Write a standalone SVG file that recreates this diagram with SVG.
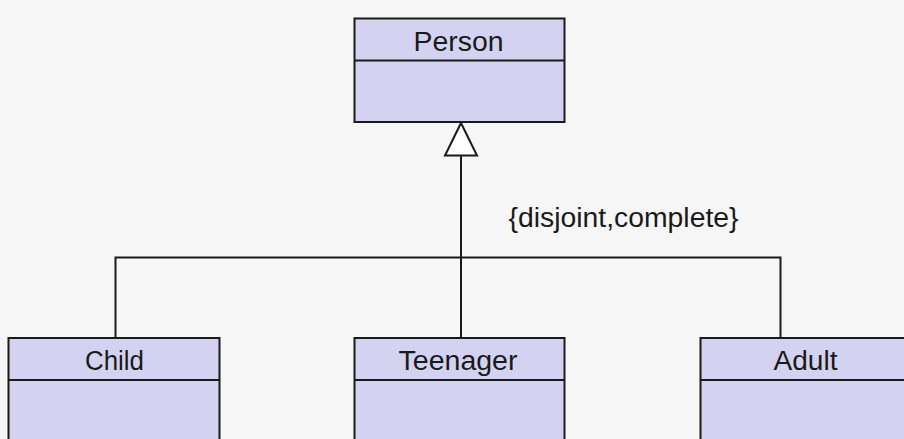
<svg xmlns="http://www.w3.org/2000/svg" width="904" height="439" viewBox="0 0 904 439">
<style>
.box{fill:#d3d3f1;stroke:#1a1a1a;stroke-width:2}
.div{stroke:#1a1a1a;stroke-width:2;fill:none}
.lbl{font-family:"Liberation Sans",Arial,sans-serif;font-size:27px;fill:#1a1a1a;text-anchor:middle}
.con{stroke:#1a1a1a;stroke-width:2;fill:none}
</style>
<rect width="904" height="439" fill="#f6f6f6"/>
<g id="connectors">
<polyline class="con" points="115.5,338 115.5,257.5 780.5,257.5 780.5,338"/>
<line class="con" x1="461" y1="155.5" x2="461" y2="338"/>
<polygon points="461,123 445,155.5 477,155.5" fill="#ffffff" stroke="#1a1a1a" stroke-width="2"/>
<text class="lbl" x="623.5" y="227" textLength="230" lengthAdjust="spacingAndGlyphs">{disjoint,complete}</text>
</g>
<g id="person">
<rect class="box" x="354.5" y="18.5" width="210" height="103.5"/>
<line class="div" x1="354.5" y1="60.5" x2="564.5" y2="60.5"/>
<text class="lbl" x="458.5" y="51" textLength="90" lengthAdjust="spacingAndGlyphs">Person</text>
</g>
<g id="child">
<rect class="box" x="8.5" y="338" width="211" height="120"/>
<line class="div" x1="8.5" y1="380" x2="219.5" y2="380"/>
<text class="lbl" x="114.5" y="370" textLength="59" lengthAdjust="spacingAndGlyphs">Child</text>
</g>
<g id="teenager">
<rect class="box" x="354.5" y="338" width="210" height="120"/>
<line class="div" x1="354.5" y1="380" x2="564.5" y2="380"/>
<text class="lbl" x="458" y="370" textLength="119" lengthAdjust="spacingAndGlyphs">Teenager</text>
</g>
<g id="adult">
<rect class="box" x="700.5" y="338" width="211" height="120"/>
<line class="div" x1="700.5" y1="380" x2="911.5" y2="380"/>
<text class="lbl" x="805.5" y="370" textLength="64" lengthAdjust="spacingAndGlyphs">Adult</text>
</g>
</svg>
